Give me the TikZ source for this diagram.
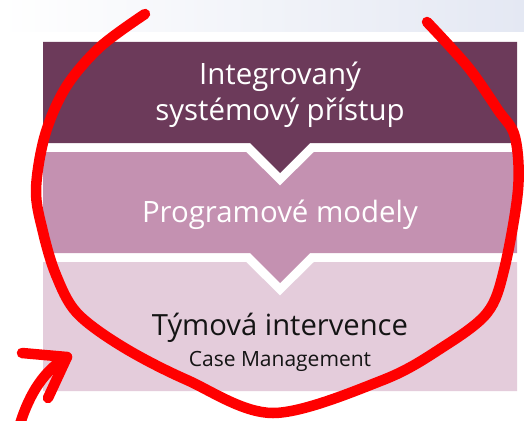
\documentclass[tikz,border=0pt]{standalone}
\usepackage{fontspec}
\setmainfont{Open Sans}
\begin{document}
\begin{tikzpicture}[x=1pt,y=-1pt,
  boxdark/.style={fill={rgb,255:red,108;green,58;blue,90}},
  boxmid/.style={fill={rgb,255:red,196;green,145;blue,177}},
  boxlight/.style={fill={rgb,255:red,228;green,204;blue,219}},
  lighttext/.style={text=white,font=\fontsize{29.4}{32}\selectfont,anchor=base,inner sep=0pt},
  darktext/.style={text={rgb,255:red,20;green,20;blue,20},anchor=base,inner sep=0pt},
  redpen/.style={draw={rgb,255:red,255;green,0;blue,0},line width=10.5pt,line cap=round,line join=round}]
\useasboundingbox (0,0) rectangle (524,420);
\fill[white] (0,0) rectangle (524,420);
\shade[left color=white,right color={rgb,255:red,228;green,232;blue,243}] (0,0) rectangle (524,32);
% boxes
\path[boxdark] (43,42) -- (517,42) -- (517,143) -- (310,143) -- (280,173) -- (250,143) -- (43,143) -- cycle;
\path[boxmid] (43,152) -- (246,152) -- (280,185.5) -- (314,152) -- (517,152) -- (517,253) -- (310,253) -- (280,283) -- (250,253) -- (43,253) -- cycle;
\path[boxlight] (43,262) -- (246,262) -- (280,295.5) -- (314,262) -- (517,262) -- (517,391) -- (43,391) -- cycle;
% texts
\node[lighttext] (t1) at (280,84) {Integrovaný};
\node[lighttext] (t2) at (280,120) {systémový přístup};
\node[lighttext] (t3) at (280,222) {Programové modely};
\node[darktext,font=\fontsize{29.2}{32}\selectfont] (t4) at (280,335) {Týmová intervence};
\node[darktext,font=\fontsize{21}{24}\selectfont] (t5) at (280,366) {Case Management};
% red circle
\draw[redpen] plot[smooth,tension=0.55] coordinates {(145,14) (100,47) (66,87) (45,135) (36,190) (43,232) (56,275) (77,313) (123,347) (187,380) (273,413) (383,380) (443,347) (487,313) (504,270) (518,190) (515,137) (498,110) (468,67) (427,22)};
% red arrow
\coordinate (tip) at (67,357);
\coordinate (b1) at (22,353);
\coordinate (b2) at (48,398);
\coordinate (tail) at (20,424);
\draw[redpen] (tail) .. controls (30,392) and (45,370) .. (tip);
\draw[redpen] (b1) -- (tip) -- (b2);
\end{tikzpicture}
\end{document}
